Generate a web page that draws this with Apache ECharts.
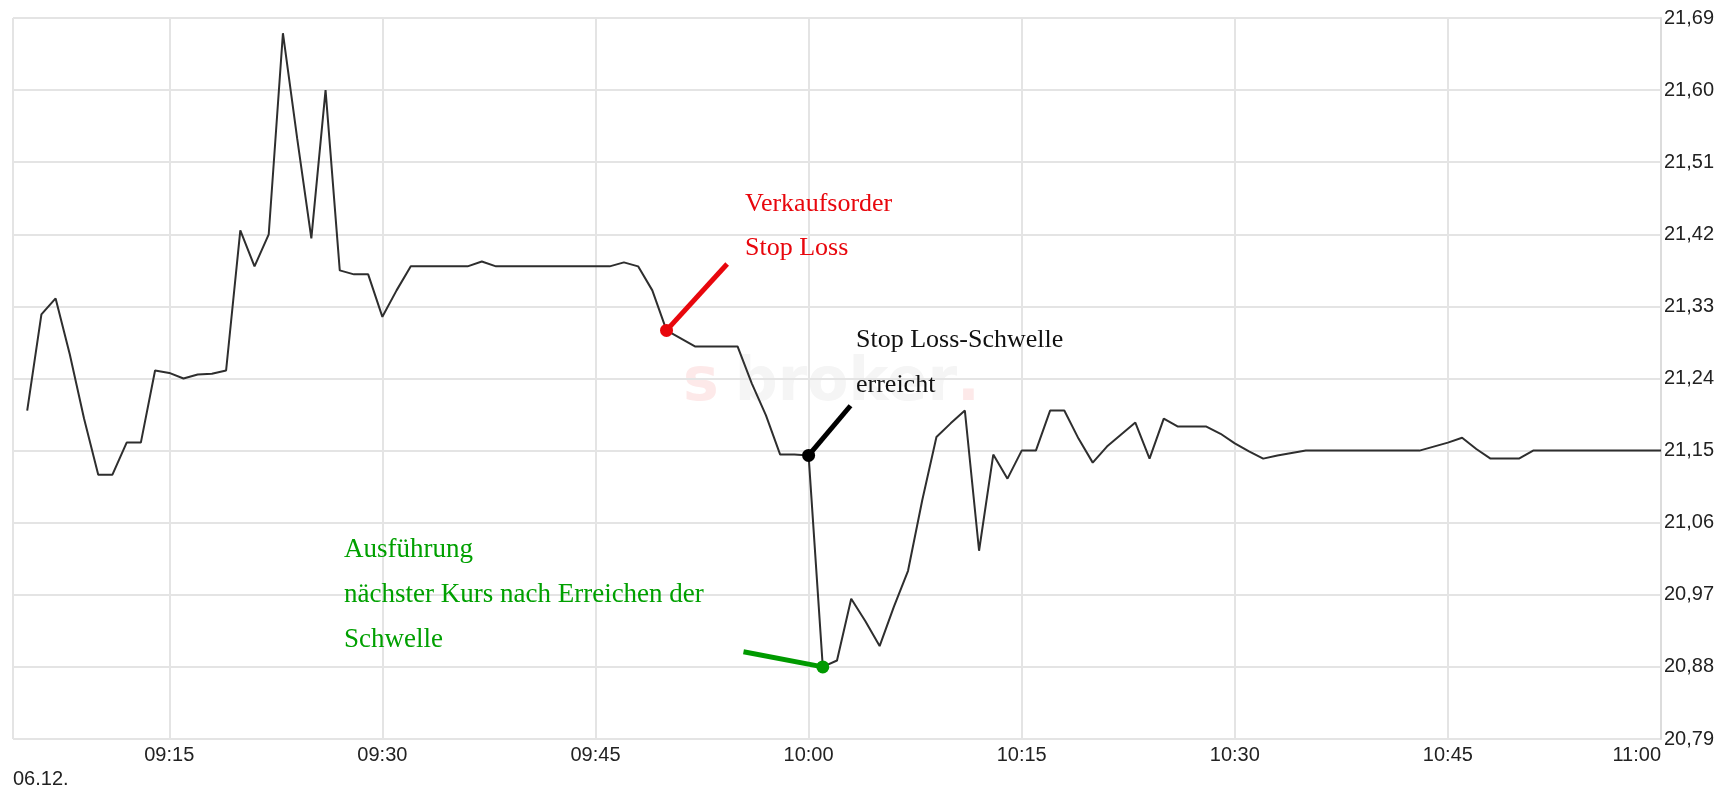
<!DOCTYPE html>
<html><head><meta charset="utf-8">
<script src="https://cdn.jsdelivr.net/npm/echarts@6/dist/echarts.min.js"></script>
<style>html,body{margin:0;padding:0;background:#fff}#c{width:1735px;height:790px}</style>
</head><body><div id="c"></div>
<script>
// ---- data ----
const startTime = '09:04';
const endTime = '11:00';
const dateLabel = '06.12.';
const xTickMinutes = [0, 15, 30, 45];
const yTickLabels = ['20,79','20,88','20,97','21,06','21,15','21,24','21,33','21,42','21,51','21,60','21,69'];

// one value per minute from 09:04 to 11:00
const prices = [
  null, 21.20, 21.32, 21.34, 21.27, 21.19,                                   // 09:04-09:09
  21.12, 21.12, 21.16, 21.16, 21.25, 21.247, 21.24, 21.245, 21.246, 21.25,   // 09:10-09:19
  21.425, 21.38, 21.42, 21.671, 21.54, 21.415, 21.60, 21.375, 21.37, 21.37,  // 09:20-09:29
  21.317, 21.35, 21.38, 21.38, 21.38, 21.38, 21.38, 21.386, 21.38, 21.38,    // 09:30-09:39
  21.38, 21.38, 21.38, 21.38, 21.38, 21.38, 21.38, 21.385, 21.38, 21.35,     // 09:40-09:49
  21.30, 21.29, 21.28, 21.28, 21.28, 21.28, 21.234, 21.194, 21.145, 21.145,  // 09:50-09:59
  21.144, 20.88, 20.888, 20.965, 20.937, 20.906, 20.955, 21.00, 21.088, 21.167, // 10:00-10:09
  21.184, 21.20, 21.025, 21.145, 21.115, 21.15, 21.15, 21.20, 21.20, 21.165, // 10:10-10:19
  21.135, 21.155, 21.17, 21.185, 21.14, 21.19, 21.18, 21.18, 21.18, 21.171,  // 10:20-10:29
  21.159, 21.149, 21.14, 21.144, 21.147, 21.15, 21.15, 21.15, 21.15, 21.15,  // 10:30-10:39
  21.15, 21.15, 21.15, 21.15, 21.155, 21.16, 21.166, 21.152, 21.14, 21.14,   // 10:40-10:49
  21.14, 21.15, 21.15, 21.15, 21.15, 21.15, 21.15, 21.15, 21.15, 21.15,      // 10:50-10:59
  21.15                                                                     // 11:00
];

// annotation anchors (data space)
const markerTimes = ['09:50', '10:00', '10:01'];
const markerValues = [21.30, 21.144, 20.88];
const calloutEndTimes = ['09:54:16', '10:02:57', '09:55:25'];
const calloutEndValues = [21.383, 21.206, 20.899];
const annotationTexts = [
  ['Verkaufsorder', 'Stop Loss'],
  ['Stop Loss-Schwelle', 'erreicht'],
  ['Ausführung', 'nächster Kurs nach Erreichen der', 'Schwelle']
];

// ---- helpers ----
function toMin(s) {
  const p = s.split(':').map(Number);
  return p[0] * 60 + p[1] + (p[2] || 0) / 60;
}
function fmt(m) {
  const h = Math.floor(m / 60), mm = m % 60;
  return String(h).padStart(2, '0') + ':' + String(mm).padStart(2, '0');
}
const categories = [];
for (let m = toMin(startTime); m <= toMin(endTime); m++) categories.push(fmt(m));
const yVals = yTickLabels.map(s => parseFloat(s.replace(',', '.')));
const yMin = yVals[0], yMax = yVals[yVals.length - 1];
const yInterval = +(yVals[1] - yVals[0]).toFixed(4);

function isMajor(idx) {
  const m = toMin(categories[idx]) % 60;
  return xTickMinutes.indexOf(m) >= 0;
}

const colors = ['#e8070d', '#000000', '#009a00'];
const textColors = ['#e8070d', '#111111', '#00a000'];
const textSizes = [26, 26, 27];
const textPos = [
  { x: 745, y: [204, 248] },
  { x: 856, y: [340, 385] },
  { x: 344, y: [550, 595, 640] }
];

const series = [{
  type: 'line',
  xAxisIndex: 0,
  data: prices.map(v => v === null ? '-' : v),
  symbol: 'none',
  lineStyle: { color: '#2e2e2e', width: 2 },
  z: 2,
  silent: true
}];
for (let i = 0; i < markerTimes.length; i++) {
  series.push({
    type: 'line',
    xAxisIndex: 1,
    data: [[toMin(markerTimes[i]), markerValues[i]], [toMin(calloutEndTimes[i]), calloutEndValues[i]]],
    symbol: 'none',
    lineStyle: { color: colors[i], width: 5 },
    z: 3,
    silent: true
  });
  series.push({
    type: 'scatter',
    xAxisIndex: 1,
    data: [[toMin(markerTimes[i]), markerValues[i]]],
    symbolSize: 13,
    itemStyle: { color: colors[i], opacity: 1 },
    z: 4,
    silent: true
  });
}

const graphics = [{
  type: 'text',
  left: 683, top: 354,
  z: -1,
  silent: true,
  style: {
    text: '{s|s}{b|broker}{d|.}',
    rich: {
      s: { fontSize: 60, fontWeight: 'bold', fontFamily: 'DejaVu Sans', fill: '#fde9e9', padding: [0, 16, 0, 0] },
      b: { fontSize: 60, fontWeight: 'bold', fontFamily: 'DejaVu Sans', fill: '#f5f5f5' },
      d: { fontSize: 60, fontWeight: 'bold', fontFamily: 'DejaVu Sans', fill: '#fde9e9' }
    }
  }
}, {
  type: 'text',
  left: 13, top: 769,
  style: { text: dateLabel, fontSize: 20, fontFamily: 'Liberation Sans, Arial, sans-serif', fill: '#222' }
}];
annotationTexts.forEach((lines, i) => {
  lines.forEach((t, j) => {
    graphics.push({
      type: 'text',
      x: textPos[i].x, y: textPos[i].y[j],
      z: 10,
      style: {
        text: t,
        fontSize: textSizes[i],
        fontFamily: 'Liberation Serif, Times New Roman, serif',
        fill: textColors[i],
        verticalAlign: 'middle',
        align: 'left'
      }
    });
  });
});

const chart = echarts.init(document.getElementById('c'), null, { renderer: 'canvas' });
chart.setOption({
  animation: false,
  backgroundColor: '#fff',
  grid: { left: 13, right: 74, top: 18, bottom: 51, containLabel: false, outerBoundsMode: 'none' },
  xAxis: [{
    type: 'category',
    data: categories,
    boundaryGap: false,
    axisLine: { show: false },
    axisTick: { show: false },
    axisLabel: {
      interval: (idx) => idx > 0 && isMajor(idx),
      margin: 6,
      fontSize: 20,
      fontFamily: 'Liberation Sans, Arial, sans-serif',
      color: '#222',
      alignMaxLabel: 'right',
      showMaxLabel: true
    },
    splitLine: {
      show: true,
      interval: (idx) => idx === 0 || idx === categories.length - 1 || isMajor(idx),
      lineStyle: { color: '#e4e4e4', width: 2 }
    }
  }, {
    type: 'value',
    min: toMin(startTime),
    max: toMin(endTime),
    show: false,
    splitLine: { show: false }
  }],
  yAxis: {
    type: 'value',
    position: 'right',
    min: yMin,
    max: yMax,
    interval: yInterval,
    axisLine: { show: true, lineStyle: { color: '#dcdcdc', width: 2 } },
    axisTick: { show: false },
    axisLabel: {
      margin: 3,
      fontSize: 20,
      fontFamily: 'Liberation Sans, Arial, sans-serif',
      color: '#222',
      formatter: v => v.toFixed(2).replace('.', ',')
    },
    splitLine: { show: true, lineStyle: { color: '#e4e4e4', width: 2 } }
  },
  graphic: graphics,
  series: series
});
</script>
</body></html>
